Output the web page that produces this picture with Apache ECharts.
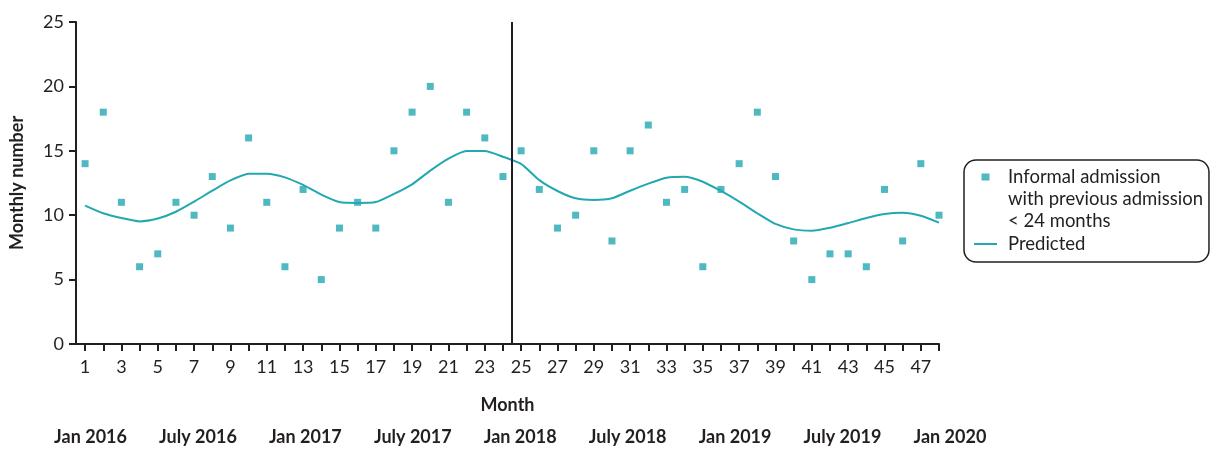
<!DOCTYPE html>
<html>
<head>
<meta charset="utf-8">
<script src="https://cdn.jsdelivr.net/npm/echarts@6/dist/echarts.min.js"></script>
<style>
  html, body { margin: 0; padding: 0; background: #fff; }
  #chart { width: 1216px; height: 449px; }
</style>
</head>
<body>
<div id="chart"></div>
<script>
// Monthly counts, January 2016 (month 1) to December 2019 (month 48)
const months = Array.from({ length: 48 }, (_, i) => i + 1);

const observed = [
  14, 18, 11, 6, 7, 11, 10, 13, 9, 16, 11, 6,
  12, 5, 9, 11, 9, 15, 18, 20, 11, 18, 16, 13,
  15, 12, 9, 10, 15, 8, 15, 17, 11, 12, 6, 12,
  14, 18, 13, 8, 5, 7, 7, 6, 12, 8, 14, 10
];

const predicted = [
  10.75, 10.15, 9.78, 9.52, 9.74, 10.27, 11.05, 11.9, 12.7, 13.22, 13.22, 12.94,
  12.35, 11.6, 11.02, 10.95, 11.02, 11.65, 12.4, 13.46, 14.39, 14.98, 14.98, 14.54,
  13.98, 12.72, 11.88, 11.31, 11.18, 11.31, 11.9, 12.45, 12.91, 12.99, 12.6, 11.88,
  11.06, 10.15, 9.32, 8.9, 8.8, 9.03, 9.39, 9.78, 10.09, 10.19, 9.96, 9.42
];

// Month at which the intervention line is drawn
const interventionMonth = 24.5;

const yTicks = [0, 5, 10, 15, 20, 25];
const xLabelMonths = months.filter(m => m % 2 === 1);
const dateLabels = ['Jan 2016', 'July 2016', 'Jan 2017', 'July 2017', 'Jan 2018',
                    'July 2018', 'Jan 2019', 'July 2019', 'Jan 2020'];

const seriesNames = ['Informal admission\nwith previous admission\n< 24 months', 'Predicted'];

const teal = '#22a8b1';
const ink = '#231f20';
const fontFamily = 'Lato, "Noto Sans", sans-serif';

// Legend key: a small square centred in a 23x8 box (corner points keep the box size)
const squareKey = 'path://M0,0L0,0ZM23,8L23,8ZM7.5,0.5H15.5V7.5H7.5Z';

const chart = echarts.init(document.getElementById('chart'), null, { renderer: 'canvas' });

const option = {
  animation: false,
  backgroundColor: '#fff',
  textStyle: { fontFamily: fontFamily, color: ink },
  grid: { left: 75, top: 22, right: 277, bottom: 105, containLabel: false },
  xAxis: {
    type: 'value',
    min: 0.5,
    max: 48,
    name: 'Month',
    nameLocation: 'middle',
    nameGap: 52,
    nameTextStyle: { fontFamily: fontFamily, fontWeight: 'bold', fontSize: 18, color: ink },
    axisLine: { show: true, onZero: false, lineStyle: { color: ink, width: 2 } },
    axisTick: { show: true, length: 7, lineStyle: { color: ink, width: 2 }, customValues: months },
    axisLabel: { fontFamily: fontFamily, fontSize: 18, color: ink, margin: 14, customValues: xLabelMonths },
    splitLine: { show: false }
  },
  yAxis: {
    type: 'value',
    min: 0,
    max: 25,
    interval: 5,
    name: 'Monthly number',
    nameLocation: 'middle',
    nameGap: 50,
    nameTextStyle: { fontFamily: fontFamily, fontWeight: 'bold', fontSize: 18, color: ink },
    axisLine: { show: true, lineStyle: { color: ink, width: 2 } },
    axisTick: { show: true, length: 7, lineStyle: { color: ink, width: 2 } },
    axisLabel: { fontFamily: fontFamily, fontSize: 18, color: ink, margin: 12,
                 customValues: yTicks },
    splitLine: { show: false }
  },
  legend: {
    orient: 'vertical',
    left: 964,
    top: 160,
    padding: [-38, 6, 7, 9],
    borderColor: ink,
    borderWidth: 1.5,
    borderRadius: 12,
    itemWidth: 23,
    itemHeight: 8,
    itemGap: 1,
    selectedMode: false,
    formatter: name => (name === seriesNames[0] ? '\n\n' + name : name),
    textStyle: { fontFamily: fontFamily, fontSize: 18.5, color: ink, lineHeight: 22, padding: [0, 0, 0, 6] },
    data: [
      { name: seriesNames[0], icon: squareKey },
      { name: seriesNames[1], itemStyle: { color: 'rgba(0,0,0,0)', borderWidth: 0 } }
    ]
  },
  series: [
    {
      name: seriesNames[0],
      type: 'scatter',
      symbol: 'rect',
      symbolSize: 7,
      itemStyle: { color: teal },
      data: months.map((m, i) => [m, observed[i]]),
      markLine: {
        silent: true,
        symbol: 'none',
        label: { show: false },
        lineStyle: { color: ink, width: 2, type: 'solid' },
        data: [{ xAxis: interventionMonth }]
      },
      z: 3
    },
    {
      name: seriesNames[1],
      type: 'line',
      symbol: 'none',
      smooth: 0.2,
      lineStyle: { color: teal, width: 2 },
      itemStyle: { color: teal },
      data: months.map((m, i) => [m, predicted[i]]),
      z: 2
    }
  ]
};

chart.setOption(option);

// Calendar labels under the month axis, evenly spaced from the first month
const firstX = chart.convertToPixel({ xAxisIndex: 0 }, 1.3);
const lastX = chart.convertToPixel({ xAxisIndex: 0 }, 48.6);
const step = (lastX - firstX) / (dateLabels.length - 1);
chart.setOption({
  graphic: dateLabels.map((t, i) => ({
    type: 'text',
    x: firstX + i * step,
    y: 437,
    style: {
      text: t,
      fontFamily: fontFamily,
      fontWeight: 'bold',
      fontSize: 18,
      fill: ink,
      align: 'center',
      verticalAlign: 'middle'
    }
  }))
});
</script>
</body>
</html>
